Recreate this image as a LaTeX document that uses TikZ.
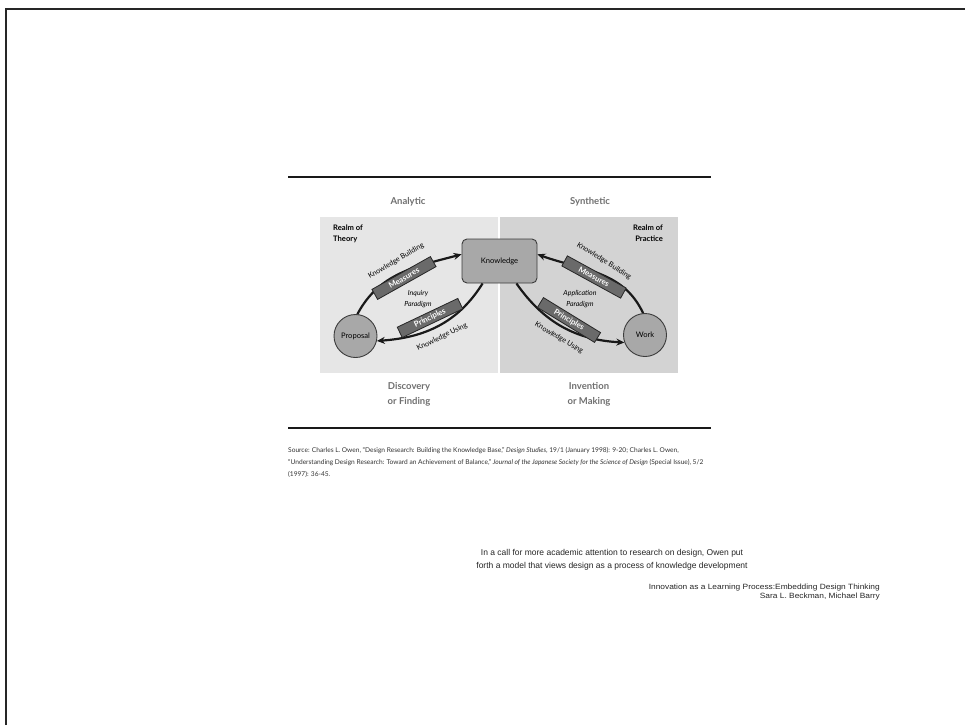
\documentclass[tikz,border=0pt]{standalone}
\usepackage{fontspec}
\setmainfont{Lato}
\newfontfamily\arialf{Liberation Sans}
\usetikzlibrary{arrows.meta}
\definecolor{panelL}{HTML}{E6E6E6}
\definecolor{panelR}{HTML}{D3D3D3}
\definecolor{nodefill}{HTML}{A8A8A8}
\definecolor{nodeline}{HTML}{3C3C3C}
\definecolor{boxfill}{HTML}{6A6A6A}
\definecolor{hdrgray}{HTML}{707070}
\begin{document}
\begin{tikzpicture}[x=1pt,y=1pt,
  hdr/.style={font=\fontsize{9.5}{15}\selectfont\bfseries, text=hdrgray, align=center, inner sep=0pt},
  realm/.style={font=\fontsize{7.6}{11}\selectfont\bfseries, inner sep=0pt},
  knode/.style={draw=nodeline, fill=nodefill, line width=0.9pt, font=\fontsize{7.6}{8}\selectfont, inner sep=0pt},
  darkbox/.style={draw=black!85, fill=boxfill, line width=0.8pt, text=white, font=\fontsize{7.8}{8}\selectfont\bfseries, minimum width=67pt, minimum height=11.5pt, inner sep=0pt},
  slabel/.style={font=\fontsize{7.2}{8}\selectfont, inner sep=0pt},
  para/.style={font=\fontsize{7}{11.5}\selectfont\itshape, align=center, inner sep=0pt},
  arc/.style={line width=2.2pt, black!90, -{Stealth[length=8pt,width=7pt]}},
  src/.style={font=\fontsize{6.6}{7}\selectfont, anchor=base west, inner sep=0pt, text=black!80}
]
\useasboundingbox (0,0) rectangle (965,-725);
\fill[white] (0,0) rectangle (965,-725);
% frame
\draw[line width=2pt, black!85] (5.5,-725) -- (5.5,-9) -- (965,-9);
% rules
\draw[line width=2pt, black!90] (288,-177) -- (711,-177);
\draw[line width=1.5pt, black!90] (288,-428) -- (711,-428);
% panels
\fill[panelL] (320,-217) rectangle (498,-373);
\fill[panelR] (500,-217) rectangle (678,-373);
% headers
\node[hdr] (analytic) at (408,-202) {Analytic};
\node[hdr] (synthetic) at (590,-202) {Synthetic};
\node[hdr] (discovery) at (409,-394) {Discovery\\or Finding};
\node[hdr] (invention) at (589,-394) {Invention\\or Making};
\node[realm, anchor=north west, align=left] (theory) at (333,-224.5) {Realm of\\Theory};
\node[realm, anchor=north east, align=right] (practice) at (663,-224.5) {Realm of\\Practice};
% nodes
\node[knode, rounded corners=5pt, minimum width=75pt, minimum height=44pt] (know) at (499.5,-261) {Knowledge};
\node[knode, circle, minimum size=43pt] (prop) at (355.5,-336) {Proposal};
\node[knode, circle, minimum size=43pt] (work) at (645,-335) {Work};
% arcs
\draw[arc] (prop.85) to[out=62,in=195] (know.170);
\draw[arc] (know.-127) to[out=-122,in=4] (prop.-13);
\draw[arc] (work.95) to[out=115,in=-20] (know.10);
\draw[arc] (know.-53) to[out=-55,in=177] (work.200);
% boxes on arcs
\node[darkbox, rotate=29.3] (m1) at (404,-278) {Measures};
\node[darkbox, rotate=25.4] (p1) at (430,-318) {Principles};
\node[darkbox, rotate=-28.7] (m2) at (594,-277) {Measures};
\node[darkbox, rotate=-31.5] (p2) at (569,-320) {Principles};
% labels
\node[slabel, rotate=30] (kb1) at (396,-261) {Knowledge Building};
\node[slabel, rotate=26] (ku1) at (442,-337) {Knowledge Using};
\node[slabel, rotate=-32] (kb2) at (604,-261) {Knowledge Building};
\node[slabel, rotate=-31] (ku2) at (559,-338) {Knowledge Using};
\node[para] (inq) at (418,-299) {Inquiry\\Paradigm};
\node[para] (app) at (580,-299) {Application\\Paradigm};
% source
\node[src] (s1) at (288,-452) {Source: Charles L. Owen, ``Design Research: Building the Knowledge Base,'' \textit{Design Studies}, 19/1 (January 1998): 9-20; Charles L. Owen,};
\node[src] (s2) at (288,-464) {``Understanding Design Research: Toward an Achievement of Balance,'' \textit{Journal of the Japanese Society for the Science of Design} (Special Issue), 5/2};
\node[src] (s3) at (288,-476) {(1997): 36-45.};
% caption
\node[font=\arialf\fontsize{8.5}{12.5}\selectfont, align=center, inner sep=0pt, text=black!85] (cap) at (612,-560) {In a call for more academic attention to research on design, Owen put\\forth a model that views design as a process of knowledge development};
\node[font=\arialf\fontsize{7.6}{9}\selectfont, align=right, anchor=north east, inner sep=0pt, text=black!85, xscale=1.1] (cite) at (880,-584) {Innovation as a Learning Process:Embedding Design Thinking\\Sara L. Beckman, Michael Barry};
\end{tikzpicture}
\end{document}
